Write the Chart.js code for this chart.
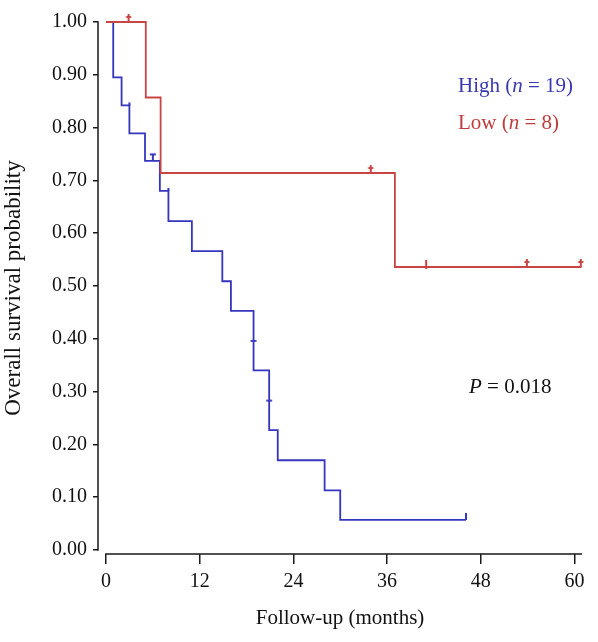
<!DOCTYPE html>
<html><head><meta charset="utf-8">
<script src="https://cdn.jsdelivr.net/npm/chart.js@4.4.0/dist/chart.umd.min.js"></script>
<style>html,body{margin:0;padding:0;background:#fff;}</style>
</head><body>
<canvas id="c" width="598" height="642"></canvas>
<script>
// ---- Data ----
const highTimes = [0, 0.93, 2.0, 3.0, 5.0, 6.9, 8.0, 11.0, 14.9, 16.0, 18.9, 18.9, 20.9, 20.9, 22.0, 28.0, 30.0, 46.1];
const highSurv  = [1.000, 0.895, 0.842, 0.789, 0.737, 0.680, 0.623, 0.566, 0.509, 0.453, 0.396, 0.340, 0.283, 0.227, 0.170, 0.113, 0.057, 0.057];
const highCensorTimes = [6.0, 46.1];
const highCensorSurv  = [0.737, 0.057];
const highMarkTimes = [3.0, 8.0, 18.9, 20.9];
const highMarkSurv  = [0.842, 0.680, 0.396, 0.283];

const lowTimes = [0, 5.1, 7.0, 37.0, 60.9];
const lowSurv  = [1.000, 0.857, 0.714, 0.536, 0.536];
const lowCensorTimes = [2.9, 33.9, 41.0, 53.9, 60.8];
const lowCensorSurv  = [1.000, 0.714, 0.536, 0.536, 0.536];

const xTicks = [0, 12, 24, 36, 48, 60];
const yTicks = [0, 0.1, 0.2, 0.3, 0.4, 0.5, 0.6, 0.7, 0.8, 0.9, 1.0];

const highLabel = ["High (", "n", " = 19)"];
const lowLabel  = ["Low (", "n", " = 8)"];
const pLabel    = ["P", " = 0.018"];

const BLUE = '#3535bd';
const RED  = '#c94545';
const FONT = '"Liberation Serif", "Times New Roman", serif';

function toPts(xs, ys) { return xs.map((x, i) => ({x: x, y: ys[i]})); }

// censor mark glyphs
function mark(color, opts) {
  const c = document.createElement('canvas');
  c.width = 12; c.height = 18;
  const g = c.getContext('2d');
  g.strokeStyle = color; g.lineWidth = 2; g.lineCap = 'butt';
  const cx = 6, cy = 9;
  g.beginPath();
  g.moveTo(cx, cy - opts.up); g.lineTo(cx, cy + (opts.down || 0));
  if (opts.bar !== undefined) { g.moveTo(cx - opts.half, cy - opts.bar); g.lineTo(cx + opts.half, cy - opts.bar); }
  g.stroke();
  return c;
}
const dagger = mark(RED, {up: 8, bar: 5, half: 2.5});
const redTick = mark(RED, {up: 7, down: 2});
const blueT = mark(BLUE, {up: 7, bar: 6.5, half: 3});
const blueTick = mark(BLUE, {up: 7});
const blueSmall = mark(BLUE, {up: 3});
const blueDash = (() => { const c = document.createElement('canvas'); c.width = 10; c.height = 6;
  const g = c.getContext('2d'); g.strokeStyle = BLUE; g.lineWidth = 1.8; g.beginPath(); g.moveTo(2, 3); g.lineTo(8, 3); g.stroke(); return c; })();

const textPlugin = {
  id: 'texts',
  afterDraw(chart) {
    const ctx = chart.ctx;
    function draw(parts, x, y, color, italicIdx) {
      ctx.save();
      ctx.fillStyle = color; ctx.textBaseline = 'alphabetic'; ctx.textAlign = 'left';
      let cx = x;
      parts.forEach((p, i) => {
        ctx.font = (italicIdx.includes(i) ? 'italic ' : '') + '21px ' + FONT;
        ctx.fillText(p, cx, y);
        cx += ctx.measureText(p).width;
      });
      ctx.restore();
    }
    draw(highLabel, 458, 92, '#3838b0', [1]);
    draw(lowLabel, 458, 129, '#c03c3c', [1]);
    draw(pLabel, 469, 393, '#111', [0]);
  }
};

const axisPlugin = {
  id: 'axisLines',
  afterDatasetsDraw(chart) {
    const ctx = chart.ctx, xs = chart.scales.x, ys = chart.scales.y, a = chart.chartArea;
    ctx.save();
    ctx.strokeStyle = '#1a1a1a'; ctx.lineWidth = 1.5;
    ctx.beginPath();
    ctx.moveTo(a.left, ys.getPixelForValue(0) + 0.75); ctx.lineTo(a.left, ys.getPixelForValue(1) - 0.75);
    ctx.moveTo(xs.getPixelForValue(0) - 0.75, a.bottom); ctx.lineTo(a.right, a.bottom);
    ctx.stroke();
    ctx.restore();
  }
};

new Chart(document.getElementById('c'), {
  type: 'scatter',
  data: {
    datasets: [
      { label: 'Low', data: toPts(lowTimes, lowSurv), showLine: true, stepped: true,
        borderColor: RED, borderWidth: 1.8, pointRadius: 0, clip: false, order: 0 },
      { label: 'Low censored', data: toPts(lowCensorTimes, lowCensorSurv), showLine: false,
        pointStyle: [dagger, dagger, redTick, dagger, dagger], pointRadius: 5, clip: false, order: 0 },
      { label: 'High', data: toPts(highTimes, highSurv), showLine: true, stepped: true,
        borderColor: BLUE, borderWidth: 1.8, pointRadius: 0, clip: false, order: 1 },
      { label: 'High censored', data: toPts(highCensorTimes, highCensorSurv), showLine: false,
        pointStyle: [blueT, blueTick], pointRadius: 5, clip: false, order: 1 },
      { label: 'High marks', data: toPts(highMarkTimes, highMarkSurv), showLine: false,
        pointStyle: [blueSmall, blueSmall, blueDash, blueDash], pointRadius: 4, clip: false, order: 1 }
    ]
  },
  plugins: [textPlugin, axisPlugin],
  options: {
    responsive: false, animation: false,
    layout: { padding: { top: 22, right: 16, left: 0, bottom: 0 } },
    plugins: { legend: { display: false }, tooltip: { enabled: false } },
    scales: {
      x: {
        type: 'linear', min: -1.02, max: 60.96,
        afterBuildTicks: s => { s.ticks = xTicks.map(v => ({value: v})); },
        afterFit: s => { s.height = 88; },
        border: { display: false },
        grid: { drawOnChartArea: false, drawTicks: true, tickLength: 10, color: '#1a1a1a', lineWidth: 1.5 },
        ticks: { color: '#111', font: { family: FONT, size: 20 }, padding: 6, maxRotation: 0, callback: v => String(v) },
        title: { display: true, text: 'Follow-up (months)', color: '#111', font: { family: FONT, size: 21 }, padding: { top: 0, bottom: 11 } }
      },
      y: {
        type: 'linear', min: -0.0076, max: 1.0,
        afterBuildTicks: s => { s.ticks = yTicks.map(v => ({value: v})); },
        afterFit: s => { s.width = 98; },
        border: { display: false },
        grid: { drawOnChartArea: false, drawTicks: true, tickLength: 5, color: '#1a1a1a', lineWidth: 1.5 },
        ticks: { color: '#111', font: { family: FONT, size: 20 }, padding: 6, callback: v => Number(v).toFixed(2) },
        title: { display: true, text: 'Overall survival probability', color: '#111', font: { family: FONT, size: 23 }, padding: { top: 0, bottom: 8 } }
      }
    }
  }
});
</script>
</body></html>
